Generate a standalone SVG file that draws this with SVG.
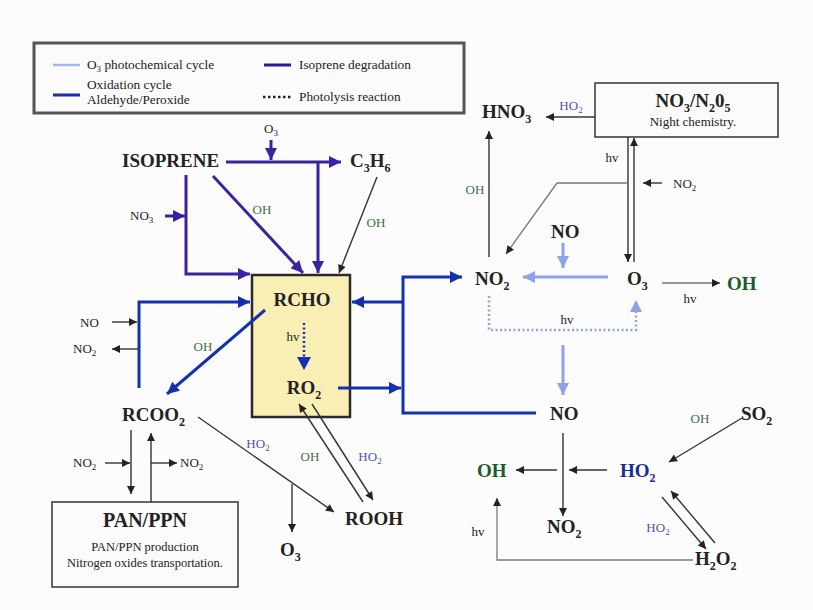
<svg xmlns="http://www.w3.org/2000/svg" width="813" height="610" viewBox="0 0 813 610">
<defs>
<style>
.t{font-family:"Liberation Serif","Times New Roman",serif;fill:#222}
.b{font-weight:bold;font-size:19px}
.r{font-size:13px}
.lg{font-size:13.3px}
.g{fill:#3f6e45}
.hb{fill:#4a56b0}
.db{fill:#1b2a9a}
.gb{fill:#1f5a2a}
.s{font-size:12px}
.sr{font-size:9px}
.pur{stroke:#3a22a0;stroke-width:3;fill:none}
.ox{stroke:#1230b0;stroke-width:3;fill:none}
.lb{stroke:#8ea2e6;stroke-width:3;fill:none}
.th{stroke:#333;stroke-width:1.4;fill:none}
.gr{stroke:#777;stroke-width:1.3;fill:none}
</style>
<marker id="mP" viewBox="0 0 10 10" refX="10" refY="5" markerWidth="14" markerHeight="12" markerUnits="userSpaceOnUse" orient="auto"><path d="M0,0L10,5L0,10z" fill="#3a22a0"/></marker>
<marker id="mO" viewBox="0 0 10 10" refX="10" refY="5" markerWidth="14" markerHeight="12" markerUnits="userSpaceOnUse" orient="auto"><path d="M0,0L10,5L0,10z" fill="#1230b0"/></marker>
<marker id="mL" viewBox="0 0 10 10" refX="10" refY="5" markerWidth="14" markerHeight="12" markerUnits="userSpaceOnUse" orient="auto"><path d="M0,0L10,5L0,10z" fill="#8ea2e6"/></marker>
<marker id="mT" viewBox="0 0 10 10" refX="10" refY="5" markerWidth="10" markerHeight="8" markerUnits="userSpaceOnUse" orient="auto"><path d="M0,0L10,5L0,10z" fill="#222"/></marker>
</defs>
<rect width="813" height="610" fill="#fcfcfc"/>

<g id="legend">
<rect x="34" y="43" width="430" height="70" fill="#fbfbfb" stroke="#555" stroke-width="3"/>
<line x1="53" y1="65" x2="80" y2="65" stroke="#a8b4ec" stroke-width="2.5"/>
<text class="t lg" x="87" y="69">O<tspan dy="3" class="sr">3</tspan><tspan dy="-3"> photochemical cycle</tspan></text>
<line x1="264" y1="65" x2="291" y2="65" stroke="#2a1e90" stroke-width="3"/>
<text class="t lg" x="299" y="69">Isoprene degradation</text>
<line x1="53" y1="95" x2="80" y2="95" stroke="#1230b0" stroke-width="3"/>
<text class="t lg" x="87" y="89">Oxidation cycle</text>
<text class="t lg" x="87" y="104">Aldehyde/Peroxide</text>
<line x1="263" y1="97" x2="292" y2="97" stroke="#222" stroke-width="2.5" stroke-dasharray="2.5,2.5"/>
<text class="t lg" x="299" y="101">Photolysis reaction</text>
</g>

<g id="rcho-box">
<rect x="252" y="275" width="98" height="142" fill="#f9eeb4" stroke="#2a2a2a" stroke-width="2.5"/>
<text class="t b" x="302" y="306" text-anchor="middle">RCHO</text>
<text class="t r" x="293" y="341" text-anchor="middle">hv</text>
<text class="t b" x="304" y="394" text-anchor="middle">RO<tspan dy="5" class="s">2</tspan></text>
</g>

<g id="night-box">
<rect x="595" y="83" width="183" height="54" fill="#fbfbfb" stroke="#333" stroke-width="1.5"/>
<text class="t b" x="693" y="107" text-anchor="middle">NO<tspan dy="5" class="s">3</tspan><tspan dy="-5">/N</tspan><tspan dy="5" class="s">2</tspan><tspan dy="-5">0</tspan><tspan dy="5" class="s">5</tspan></text>
<text class="t r" x="693" y="126" text-anchor="middle">Night chemistry.</text>
</g>

<g id="pan-box">
<rect x="52" y="502" width="186" height="85" fill="#fbfbfb" stroke="#333" stroke-width="1.5"/>
<text class="t" font-weight="bold" font-size="20" x="145" y="527" text-anchor="middle">PAN/PPN</text>
<text class="t" font-size="12.5" x="145" y="551" text-anchor="middle">PAN/PPN production</text>
<text class="t" font-size="12.5" x="145" y="567" text-anchor="middle">Nitrogen oxides transportation.</text>
</g>

<g id="connectors">
<path class="pur" d="M226,162H341" marker-end="url(#mP)"/>
<path class="pur" d="M271,140V160" marker-end="url(#mP)"/>
<path class="pur" d="M318,162V273" marker-end="url(#mP)"/>
<path class="pur" d="M186,175V274H250" marker-end="url(#mP)"/>
<path class="pur" d="M165,216H185" marker-end="url(#mP)"/>
<path class="pur" d="M213,176L303,273" marker-end="url(#mP)"/>
<path class="th" d="M377,177L339,273" marker-end="url(#mT)"/>

<path class="ox" d="M265,310L167,394" marker-end="url(#mO)"/>
<path class="ox" d="M139,388V302H250" marker-end="url(#mO)"/>
<path class="th" d="M112,322H137" marker-end="url(#mT)"/>
<path class="th" d="M138,349H112" marker-end="url(#mT)"/>
<path d="M304,323V358" stroke="#1230b0" stroke-width="2.5" fill="none" stroke-dasharray="2,2.5"/>
<path d="M297,357L311,357L304,370z" fill="#1230b0"/>
<path class="ox" d="M338,388H401" marker-end="url(#mO)"/>
<path class="ox" d="M536,413H403V277H462" marker-end="url(#mO)"/>
<path class="ox" d="M403,302H352" marker-end="url(#mO)"/>

<path class="lb" d="M608,277H523" marker-end="url(#mL)"/>
<path class="lb" d="M563,243V268" marker-end="url(#mL)"/>
<path d="M489,296V330H636V300" stroke="#8ea2e6" stroke-width="2.5" fill="none" stroke-dasharray="2,2.5" marker-end="url(#mL)"/>
<path class="lb" d="M563,345V395" marker-end="url(#mL)"/>

<path class="th" d="M595,117H546" marker-end="url(#mT)"/>
<path class="th" d="M489,257V131" marker-end="url(#mT)"/>
<path class="th" d="M628,137V262" marker-end="url(#mT)"/>
<path class="th" d="M634,262V138" marker-end="url(#mT)"/>
<path class="gr" d="M627,183H557L506,254" marker-end="url(#mT)"/>
<path class="th" d="M662,183H643" marker-end="url(#mT)"/>
<path class="gr" d="M662,283H720" marker-end="url(#mT)"/>
<path class="th" d="M563,433V516" marker-end="url(#mT)"/>
<path class="th" d="M607,470H569" marker-end="url(#mT)"/>
<path class="th" d="M557,470H516" marker-end="url(#mT)"/>
<path class="gr" d="M693,560H497V498" marker-end="url(#mT)"/>
<path class="th" d="M742,418L669,462" marker-end="url(#mT)"/>
<path class="th" d="M662,497L706,549" marker-end="url(#mT)"/>
<path class="th" d="M715,543L671,491" marker-end="url(#mT)"/>
<path class="th" d="M198,417L334,512" marker-end="url(#mT)"/>
<path class="th" d="M292,484V532" marker-end="url(#mT)"/>
<path class="th" d="M363,502L299,404" marker-end="url(#mT)"/>
<path class="th" d="M312,404L373,500" marker-end="url(#mT)"/>
<path class="th" d="M131,430V494" marker-end="url(#mT)"/>
<path class="th" d="M151,502V433" marker-end="url(#mT)"/>
<path class="th" d="M105,463H130" marker-end="url(#mT)"/>
<path class="th" d="M151,463H177" marker-end="url(#mT)"/>
</g>

<g id="isoprene"><text class="t b" x="122" y="167">ISOPRENE</text></g>
<g id="c3h6"><text class="t b" x="350" y="167">C<tspan dy="5" class="s">3</tspan><tspan dy="-5">H</tspan><tspan dy="5" class="s">6</tspan></text></g>
<g id="rcoo2"><text class="t b" x="122" y="421">RCOO<tspan dy="5" class="s">2</tspan></text></g>
<g id="no2-main"><text class="t b" x="475" y="285">NO<tspan dy="5" class="s">2</tspan></text></g>
<g id="o3-main"><text class="t b" x="627" y="285">O<tspan dy="5" class="s">3</tspan></text></g>
<g id="no-top"><text class="t b" x="551" y="238">NO</text></g>
<g id="hno3"><text class="t b" x="482" y="118">HNO<tspan dy="5" class="s">3</tspan></text></g>
<g id="oh-right"><text class="t b gb" x="727" y="290">OH</text></g>
<g id="no-mid"><text class="t b" x="550" y="420">NO</text></g>
<g id="so2"><text class="t b" x="741" y="420">SO<tspan dy="5" class="s">2</tspan></text></g>
<g id="ho2"><text class="t b db" x="620" y="477">HO<tspan dy="5" class="s">2</tspan></text></g>
<g id="oh-low"><text class="t b gb" x="477" y="477">OH</text></g>
<g id="no2-low"><text class="t b" x="547" y="533">NO<tspan dy="5" class="s">2</tspan></text></g>
<g id="h2o2"><text class="t b" x="695" y="565">H<tspan dy="5" class="s">2</tspan><tspan dy="-5">O</tspan><tspan dy="5" class="s">2</tspan></text></g>
<g id="rooh"><text class="t b" x="345" y="525">ROOH</text></g>
<g id="o3-low"><text class="t b" x="280" y="556">O<tspan dy="5" class="s">3</tspan></text></g>

<g id="labels">
<text class="t r" x="264" y="133">O<tspan dy="3" class="sr">3</tspan></text>
<text class="t r" x="130" y="220">NO<tspan dy="3" class="sr">3</tspan></text>
<text class="t r g" x="262" y="214" text-anchor="middle">OH</text>
<text class="t r g" x="376" y="227" text-anchor="middle">OH</text>
<text class="t r" x="80" y="327">NO</text>
<text class="t r" x="73" y="353">NO<tspan dy="3" class="sr">2</tspan></text>
<text class="t r g" x="203" y="351" text-anchor="middle">OH</text>
<text class="t r" x="73" y="467">NO<tspan dy="3" class="sr">2</tspan></text>
<text class="t r" x="180" y="467">NO<tspan dy="3" class="sr">2</tspan></text>
<text class="t r hb" x="258" y="448" text-anchor="middle">HO<tspan dy="3" class="sr">2</tspan></text>
<text class="t r g" x="310" y="461" text-anchor="middle">OH</text>
<text class="t r hb" x="370" y="461" text-anchor="middle">HO<tspan dy="3" class="sr">2</tspan></text>
<text class="t r hb" x="571" y="110" text-anchor="middle">HO<tspan dy="3" class="sr">2</tspan></text>
<text class="t r g" x="475" y="194" text-anchor="middle">OH</text>
<text class="t r" x="612" y="162" text-anchor="middle">hv</text>
<text class="t r" x="673" y="188">NO<tspan dy="3" class="sr">2</tspan></text>
<text class="t r" x="567" y="324" text-anchor="middle">hv</text>
<text class="t r" x="690" y="303" text-anchor="middle">hv</text>
<text class="t r g" x="700" y="423" text-anchor="middle">OH</text>
<text class="t r hb" x="658" y="532" text-anchor="middle">HO<tspan dy="3" class="sr">2</tspan></text>
<text class="t r" x="478" y="536" text-anchor="middle">hv</text>
</g>
</svg>
